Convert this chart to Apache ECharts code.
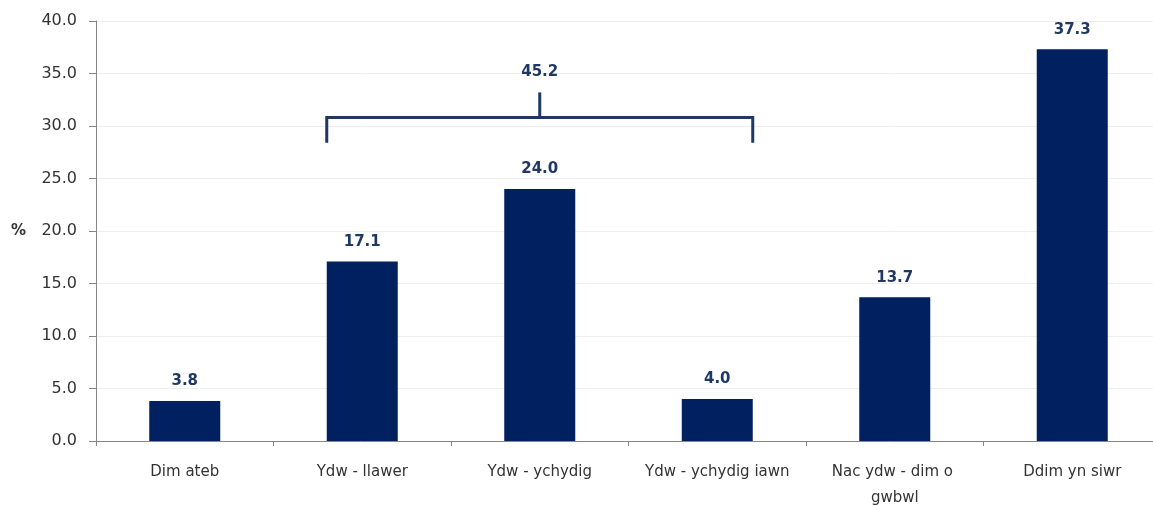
<!DOCTYPE html>
<html>
<head>
<meta charset="utf-8"/>
<title>Ydw</title>
<script src="https://cdn.jsdelivr.net/npm/echarts@6/dist/echarts.min.js"></script>
<style>
html,body{margin:0;padding:0;background:#fff;}
#chart{width:1153px;height:505px;}
</style>
</head>
<body>
<div id="chart"></div>
<script type="text/javascript">
var categories = ['Dim ateb', 'Ydw - llawer', 'Ydw - ychydig', 'Ydw - ychydig iawn', 'Nac ydw - dim o gwbwl', 'Ddim yn siwr'];
var values = [3.8, 17.1, 24.0, 4.0, 13.7, 37.3];
// bracket: first category index, last category index, group total
var groupStart = 1;
var groupEnd = 3;
var groupTotal = 45.2;

var navy = '#002060';
var labelNavy = '#1F3864';
var barFrac = 0.4;

var chart = echarts.init(document.getElementById('chart'));
chart.setOption({
	animation: false,
	grid: {left: 96, right: -8, top: 21, bottom: 64, containLabel: false, outerBoundsMode: 'none'},
	xAxis: {
		type: 'category',
		data: categories,
		axisLine: {lineStyle: {color: '#868686'}},
		axisTick: {show: true, interval: 0, length: 5, lineStyle: {color: '#868686'}},
		axisLabel: {interval: 0, color: '#333', fontFamily: 'DejaVu Sans', fontSize: 15, margin: 18, width: 160, overflow: 'break', lineHeight: 26}
	},
	yAxis: {
		type: 'value', min: 0, max: 40, interval: 5,
		name: '%', nameLocation: 'middle', nameRotate: 0, nameGap: 70,
		nameTextStyle: {color: '#333', fontFamily: 'DejaVu Sans', fontSize: 15, fontWeight: 'bold'},
		axisLine: {show: true, lineStyle: {color: '#868686'}},
		axisTick: {show: true, length: 7, lineStyle: {color: '#868686'}},
		axisLabel: {color: '#333', fontFamily: 'DejaVu Sans', fontSize: 16, margin: 19, formatter: function(v){ return v.toFixed(1); }},
		splitLine: {lineStyle: {color: '#eeeeee'}}
	},
	series: [
		{
			type: 'bar', data: values, barWidth: (barFrac * 100) + '%',
			itemStyle: {color: navy},
			label: {show: true, position: 'top', distance: 12, color: labelNavy, fontFamily: 'DejaVu Sans', fontSize: 15, fontWeight: 'bold',
				formatter: function(p){ return p.value.toFixed(1); }}
		},
		{
			type: 'custom',
			data: [[groupStart, groupEnd, groupTotal]],
			z: 5,
			renderItem: function(params, api){
				var a = api.coord([api.value(0), 0]);
				var b = api.coord([api.value(1), 0]);
				var half = api.size([1, 0])[0] * barFrac / 2;
				var x1 = a[0] - half, x2 = b[0] + half, xm = (x1 + x2) / 2;
				var yBar = api.coord([0, 30.8])[1];
				var yLeg = api.coord([0, 28.4])[1];
				var yStem = api.coord([0, 33.2])[1];
				var yText = api.coord([0, 35.1])[1];
				var st = {stroke: labelNavy, lineWidth: 3, fill: null};
				return {type: 'group', children: [
					{type: 'polyline', shape: {points: [[x1, yLeg], [x1, yBar], [x2, yBar], [x2, yLeg]]}, style: st},
					{type: 'line', shape: {x1: xm, y1: yBar, x2: xm, y2: yStem}, style: st},
					{type: 'text', x: xm, y: yText, style: {text: api.value(2).toFixed(1), fill: labelNavy, font: 'bold 15px "DejaVu Sans"', align: 'center', verticalAlign: 'middle'}}
				]};
			}
		}
	]
});
</script>
</body>
</html>
